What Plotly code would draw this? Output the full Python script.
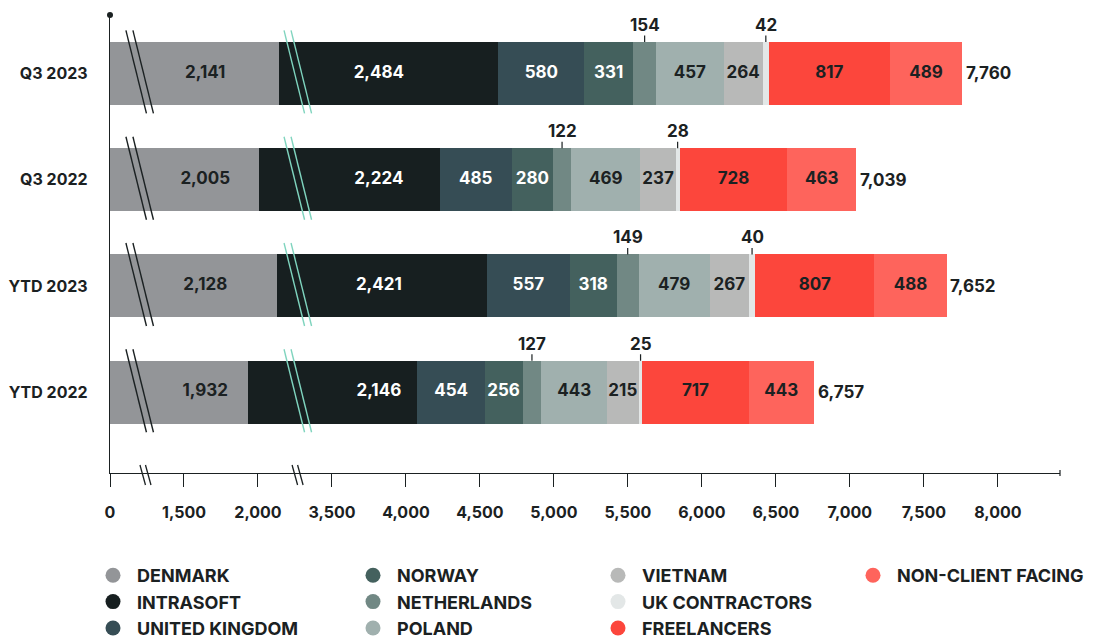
import plotly.graph_objects as go

# ---- data -------------------------------------------------------------
periods = ["Q3 2023", "Q3 2022", "YTD 2023", "YTD 2022"]

denmark = [2141, 2005, 2128, 1932]
intrasoft = [2484, 2224, 2421, 2146]
united_kingdom = [580, 485, 557, 454]
norway = [331, 280, 318, 256]
netherlands = [154, 122, 149, 127]
poland = [457, 469, 479, 443]
vietnam = [264, 237, 267, 215]
uk_contractors = [42, 28, 40, 25]
freelancers = [817, 728, 807, 717]
non_client_facing = [489, 463, 488, 443]
totals = [7760, 7039, 7652, 6757]

tick_values = [0, 1500, 2000, 3500, 4000, 4500, 5000, 5500, 6000, 6500, 7000, 7500, 8000]

series = [
    ("DENMARK", denmark),
    ("INTRASOFT", intrasoft),
    ("UNITED KINGDOM", united_kingdom),
    ("NORWAY", norway),
    ("NETHERLANDS", netherlands),
    ("POLAND", poland),
    ("VIETNAM", vietnam),
    ("UK CONTRACTORS", uk_contractors),
    ("FREELANCERS", freelancers),
    ("NON-CLIENT FACING", non_client_facing),
]

# ---- styling ----------------------------------------------------------
INK = "#1b2122"
FONT = "Inter"
LABEL_SIZE = 17
colors = {
    "DENMARK": "#939598",
    "INTRASOFT": "#171f20",
    "UNITED KINGDOM": "#364d55",
    "NORWAY": "#44615e",
    "NETHERLANDS": "#718884",
    "POLAND": "#a0b0ae",
    "VIETNAM": "#b8b9b8",
    "UK CONTRACTORS": "#e3e7e7",
    "FREELANCERS": "#fc463c",
    "NON-CLIENT FACING": "#fe645c",
}
light_text = {"INTRASOFT", "UNITED KINGDOM", "NORWAY"}
labelled_above = {"NETHERLANDS", "UK CONTRACTORS"}
BREAK_COLORS = [INK, "#7fd4be"]
BREAK_SHIFT = [-5, 1]

# broken value axis: visible value ranges, left to right
panels = [(0, 236), (1236, 2264), (3264, 8420)]
axis_names = ["x", "x2", "x3"]
span = sum(hi - lo for lo, hi in panels)
domains, acc = [], 0.0
for lo, hi in panels:
    w = (hi - lo) / span
    domains.append([acc, min(acc + w, 1.0)])
    acc += w

BAR_GAP = 0.407
half_bar = (1 - BAR_GAP) / 2

fig = go.Figure()

# stacked bars, drawn on every panel so each shows its own slice
for k, ax in enumerate(axis_names):
    for name, vals in series:
        fig.add_trace(go.Bar(
            x=vals, y=periods, orientation="h", name=name,
            marker=dict(color=colors[name], line=dict(width=0)),
            xaxis=ax, yaxis="y", showlegend=False, hoverinfo="skip",
        ))

# segment start positions per row
starts = {}
cum = [0] * len(periods)
for name, vals in series:
    starts[name] = list(cum)
    cum = [c + v for c, v in zip(cum, vals)]


def last_panel_center(s, e):
    for k in reversed(range(len(panels))):
        lo, hi = max(s, panels[k][0]), min(e, panels[k][1])
        if hi > lo:
            return k, (lo + hi) / 2
    return len(panels) - 1, (s + e) / 2


def crosses_break(s, e):
    for (lo1, hi1), (lo2, hi2) in zip(panels[:-1], panels[1:]):
        if s < hi1 and e > lo2:
            return True
    return False


# value labels inside the bars
for name, vals in series:
    if name in labelled_above:
        continue
    segs = [(s, s + v) for s, v in zip(starts[name], vals)]
    placed = [last_panel_center(s, e) for s, e in segs]
    if any(crosses_break(s, e) for s, e in segs):
        # labels of broken segments line up in one column
        k = placed[0][0]
        col = sum(c for _, c in placed) / len(placed)
        placed = [(k, col)] * len(placed)
    by_panel = {}
    for (k, xv), p, v in zip(placed, periods, vals):
        by_panel.setdefault(k, []).append((xv, p, f"{v:,}"))
    for k, items in by_panel.items():
        fig.add_trace(go.Scatter(
            x=[i[0] for i in items], y=[i[1] for i in items],
            text=[i[2] for i in items], mode="text",
            textposition="middle center",
            textfont=dict(family=FONT, size=LABEL_SIZE, weight=700,
                          color="#ffffff" if name in light_text else INK),
            xaxis=axis_names[k], yaxis="y", showlegend=False, hoverinfo="skip",
        ))

annotations = []
# narrow segments get their value above the bar with a short leader
for name, vals in series:
    if name not in labelled_above:
        continue
    for i, (s, v) in enumerate(zip(starts[name], vals)):
        k, xv = last_panel_center(s, s + v)
        annotations.append(dict(
            x=xv, y=i - half_bar, xref=axis_names[k], yref="y",
            text=f"{v:,}", showarrow=True, arrowhead=0, arrowwidth=1.2,
            arrowcolor=INK, ax=0, ay=-17, standoff=0, borderpad=0,
            font=dict(family=FONT, size=LABEL_SIZE, weight=700, color=INK),
        ))

# totals at the end of each bar
for p, t in zip(periods, totals):
    annotations.append(dict(
        x=t, y=p, xref=axis_names[-1], yref="y", text=f"{t:,}",
        showarrow=False, xanchor="left", xshift=2,
        font=dict(family=FONT, size=LABEL_SIZE, weight=700, color=INK),
    ))

# legend entries (round swatches), four columns of up to three rows
legend_names = ["legend", "legend2", "legend3", "legend4"]
for j, (name, _) in enumerate(series):
    fig.add_trace(go.Scatter(
        x=[None], y=[None], mode="markers", name=name, legendgroup=name,
        marker=dict(symbol="circle", size=15, color=colors[name]),
        xaxis="x3", yaxis="y", legend=legend_names[j // 3], showlegend=True,
    ))

PLOT_L, PLOT_W, PLOT_T, PLOT_B = 110, 950, 15, 167
PLOT_H = 640 - PLOT_T - PLOT_B
legend_marker_px = [113, 373, 618, 873]
legend_top_px = 557
legend_layouts = {}
for j, ln in enumerate(legend_names):
    legend_layouts[ln] = dict(
        x=(legend_marker_px[j] - 24 - PLOT_L) / PLOT_W,
        y=-(legend_top_px - (640 - PLOT_B)) / PLOT_H,
        xanchor="left", yanchor="top", orientation="v",
        traceorder="normal",
        font=dict(family=FONT, size=18, weight=700, color=INK),
        itemwidth=38, bgcolor="rgba(0,0,0,0)", tracegroupgap=3,
    )

# break marks across each bar and on the value axis
shapes = []
for b in range(len(panels) - 1):
    xb = domains[b][1]
    for i in range(len(periods)):
        for off in (-3.5, 3.5):
            c = off + BREAK_SHIFT[b]
            shapes.append(dict(
                type="line", xref="paper", yref="y",
                xsizemode="pixel", ysizemode="pixel",
                xanchor=xb, yanchor=i,
                x0=c - 10.5, y0=43, x1=c + 10, y1=-40,
                line=dict(color=BREAK_COLORS[b], width=1.4),
            ))
    for off in (-2.75, 2.75):
        shapes.append(dict(
            type="line", xref="paper", yref="paper",
            xsizemode="pixel", ysizemode="pixel",
            xanchor=xb, yanchor=0,
            x0=off - 2.2, y0=8, x1=off + 3.3, y1=-12,
            line=dict(color=INK, width=1.3),
        ))

# dot capping the category axis, end tick on the value axis
shapes.append(dict(
    type="circle", xref="paper", yref="paper",
    xsizemode="pixel", ysizemode="pixel", xanchor=0, yanchor=1,
    x0=-3, x1=3, y0=-3, y1=3, fillcolor=INK, line=dict(width=0),
))
shapes.append(dict(
    type="line", xref="paper", yref="paper",
    xsizemode="pixel", ysizemode="pixel", xanchor=1, yanchor=0,
    x0=0, x1=0, y0=3, y1=-3, line=dict(color=INK, width=1.2),
))

axis_common = dict(
    showgrid=False, zeroline=False, showline=True, linecolor=INK, linewidth=1.3,
    ticks="outside", ticklen=13, tickwidth=1.3, tickcolor=INK,
    tickvals=tick_values, ticktext=[f"{v:,}" for v in tick_values],
    tickfont=dict(family=FONT, size=16, weight=700, color=INK),
    ticklabelstandoff=12, anchor="y", fixedrange=True,
)

layout = dict(
    width=1093, height=640,
    margin=dict(l=PLOT_L, r=1093 - PLOT_L - PLOT_W, t=PLOT_T, b=PLOT_B,
                autoexpand=False),
    paper_bgcolor="white", plot_bgcolor="white",
    barmode="stack", bargap=BAR_GAP,
    yaxis=dict(
        type="category", categoryorder="array", categoryarray=periods,
        range=[3.76, -0.55], showgrid=False, zeroline=False,
        showline=True, linecolor=INK, linewidth=1.3, ticks="",
        tickfont=dict(family=FONT, size=16, weight=700, color=INK),
        ticklabelstandoff=18, anchor="x", fixedrange=True,
    ),
    annotations=annotations, shapes=shapes,
    showlegend=True,
)
for k, ax in enumerate(axis_names):
    key = "xaxis" if k == 0 else f"xaxis{k + 1}"
    layout[key] = dict(axis_common, domain=domains[k], range=list(panels[k]))
layout.update(legend_layouts)

fig.update_layout(**layout)
fig.write_html("out.html")
